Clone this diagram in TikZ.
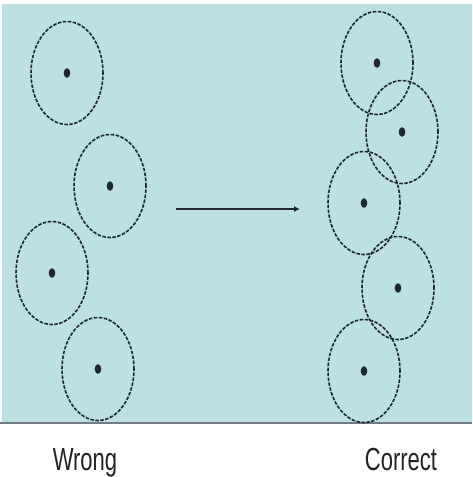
\documentclass[tikz,border=0pt]{standalone}
\usepackage{fontspec}
\setmainfont{Liberation Sans}
\usetikzlibrary{shapes.geometric,arrows.meta}
\definecolor{agua}{RGB}{189,224,227}
\definecolor{borde}{RGB}{28,40,46}
\definecolor{suelo}{RGB}{112,124,128}
\definecolor{letra}{RGB}{34,34,34}
\begin{document}
\begin{tikzpicture}[x=1pt,y=-1pt]

\useasboundingbox (0,0) rectangle (472,477);

% Fondo
\fill[agua] (2,4) rectangle (472,423);
\draw[suelo, line width=2.5pt] (0,423) -- (472,423);

% Nodos Wrong / Correct
\begin{scope}[
		every node/.style = {shape = ellipse, draw = borde,
		dash pattern = on 3.5pt off 1.5pt, line width = 1.6pt,
		inner sep = 0pt, minimum width = 72pt, minimum height = 103pt}]
	\node (W1) at (67,73) {};
	\node (W2) at (110,186) {};
	\node (W3) at (52,273) {};
	\node (W4) at (98,369) {};
	\node (C1) at (377,63) {};
	\node (C2) at (402,132) {};
	\node (C3) at (364,203) {};
	\node (C4) at (398,288) {};
	\node (C5) at (364,371) {};
\end{scope}

% Centros
\foreach \n in {W1,W2,W3,W4,C1,C2,C3,C4,C5}
	\fill[borde] (\n.center) ellipse (3.3 and 4.8);

% Flecha
\coordinate (ini) at (176,209);
\coordinate (fin) at (300,209);
\draw[borde, line width = 2.4pt, -{Latex[length=6pt,width=6pt]}] (ini) -- (fin);

% Etiquetas
\begin{scope}[
		every node/.style = {anchor = base, text = letra, inner sep = 0pt}]
	\node (wrong) at (85,470) {\scalebox{1}[1.45]{\fontsize{22}{26}\selectfont Wrong}};
	\node (correct) at (401,470) {\scalebox{1}[1.45]{\fontsize{22}{26}\selectfont Correct}};
\end{scope}
\end{tikzpicture}
\end{document}
